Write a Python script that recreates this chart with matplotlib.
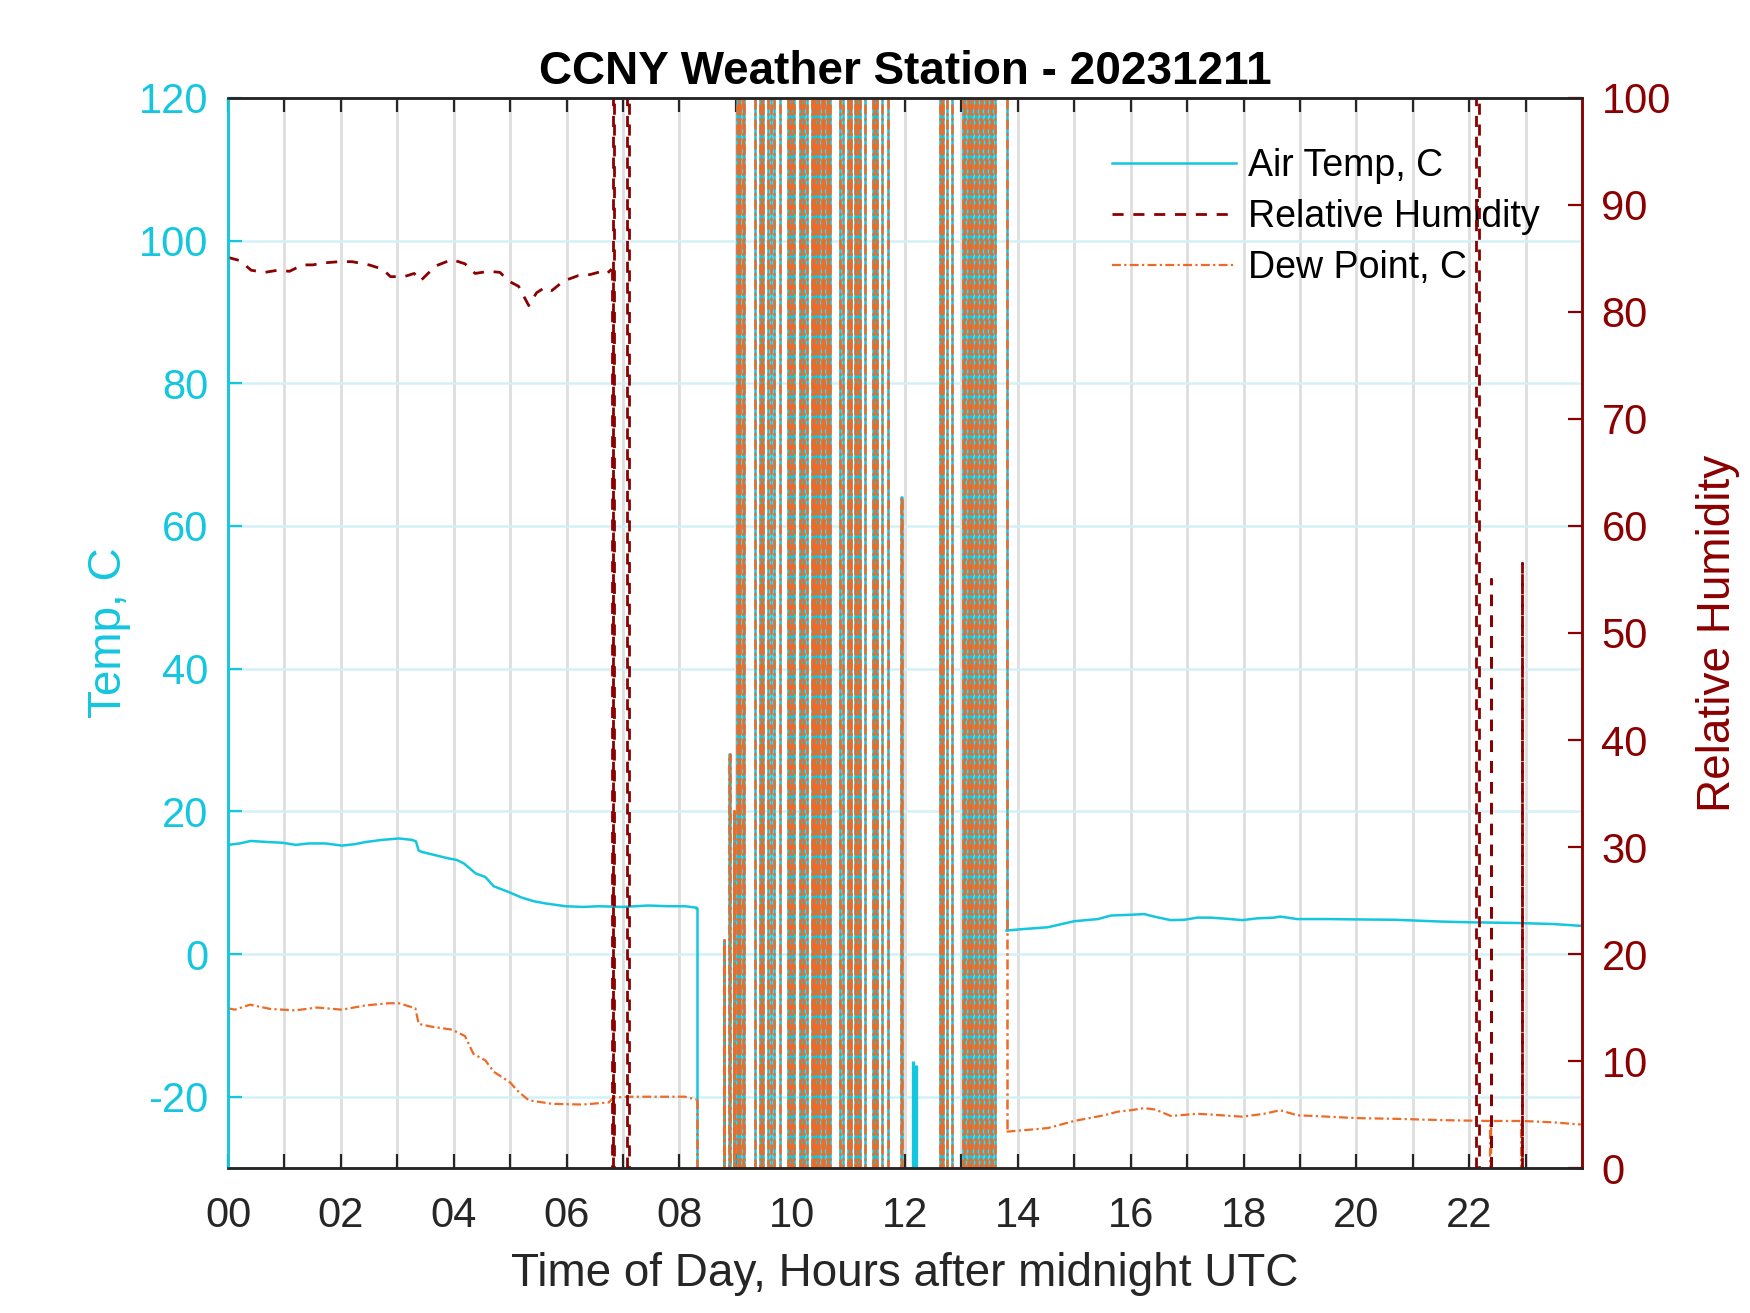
import numpy as np
import matplotlib.pyplot as plt
from matplotlib.lines import Line2D

plt.rcParams['font.family'] = ['Liberation Sans', 'DejaVu Sans']
plt.rcParams['axes.unicode_minus'] = False

# colours
cyan = '#14C6DE'
dred = '#8B0000'
orange = '#EE6A27'
axgrey = '#262626'

# ---- air temp (C), before and after the sensor glitch block ----
temp_t1 = [0.0, 0.21, 0.40, 0.70, 0.96, 1.20, 1.43, 1.73, 2.02, 2.25, 2.44, 2.73, 3.03,
           3.26, 3.33, 3.38, 3.44, 3.65, 3.91, 4.05, 4.18, 4.39, 4.56, 4.71, 4.97, 5.21,
           5.42, 5.62, 5.98, 6.30, 6.57, 7.00, 7.45, 7.80, 8.10, 8.30]
temp_v1 = [15.3, 15.5, 15.85, 15.7, 15.6, 15.3, 15.5, 15.5, 15.2, 15.4, 15.7, 16.0, 16.2,
           16.0, 15.8, 14.5, 14.3, 13.9, 13.4, 13.2, 12.7, 11.3, 10.8, 9.5, 8.7, 7.9,
           7.4, 7.1, 6.7, 6.6, 6.7, 6.6, 6.8, 6.7, 6.7, 6.5]
temp_t2 = [13.80, 14.10, 14.53, 15.00, 15.42, 15.65, 16.00, 16.24, 16.44, 16.71, 16.95,
           17.18, 17.42, 17.77, 17.98, 18.24, 18.54, 18.65, 18.95, 19.50, 20.00, 20.70,
           21.50, 22.00, 22.85, 23.50, 23.98]
temp_v2 = [3.3, 3.5, 3.75, 4.6, 4.9, 5.4, 5.5, 5.6, 5.2, 4.75, 4.8,
           5.1, 5.1, 4.9, 4.75, 5.0, 5.1, 5.25, 4.9, 4.9, 4.85, 4.8,
           4.55, 4.45, 4.35, 4.2, 3.95]
# short temp-only dropouts
temp_spike_t = [12.14, 12.20]
temp_spike_v = [-15.0, -15.5]

# ---- dew point (C) ----
dew_t1 = [0.0, 0.12, 0.39, 0.75, 1.19, 1.58, 2.02, 2.44, 2.85, 3.03, 3.32, 3.38, 3.62,
          3.97, 4.20, 4.35, 4.56, 4.71, 5.00, 5.15, 5.33, 5.74, 6.28, 6.75, 6.82, 6.83,
          6.84, 7.17, 7.76, 8.10, 8.30]
dew_v1 = [-7.6, -7.8, -7.1, -7.7, -7.9, -7.5, -7.8, -7.2, -6.9, -6.9, -7.6, -9.8, -10.2,
          -10.6, -11.5, -14.0, -14.9, -16.5, -18.0, -19.3, -20.5, -21.0, -21.1, -20.8, -20.2, -21.4,
          -20.1, -20.0, -20.0, -20.0, -20.4]
dew_t2 = [13.80, 14.10, 14.53, 15.00, 15.53, 15.77, 16.00, 16.24, 16.44, 16.71, 17.18,
          17.42, 17.98, 18.36, 18.65, 18.95, 19.50, 20.00, 20.70, 21.60, 22.37, 22.38,
          22.39, 22.92, 22.93, 22.94, 23.50, 23.98]
dew_v2 = [-24.9, -24.7, -24.4, -23.4, -22.6, -22.1, -21.9, -21.6, -21.8, -22.7, -22.4,
          -22.5, -22.8, -22.4, -21.9, -22.6, -22.8, -23.0, -23.1, -23.3, -23.4, -300.0,
          -23.4, -23.4, -300.0, -23.4, -23.6, -23.9]

# ---- raw readings during the glitch block (shared by temp and dew sensor) ----
glitch_t = [8.32, 8.79, 8.80, 8.88, 8.89, 8.96, 8.97, 9.02, 9.05, 9.07, 9.12, 9.15, 9.34,
            9.43, 9.46, 9.49, 9.58, 9.62, 9.67, 9.78, 9.93, 9.96, 9.99, 10.04, 10.13,
            10.17, 10.21, 10.26, 10.35, 10.37, 10.39, 10.43, 10.45, 10.47, 10.52, 10.54,
            10.56, 10.61, 10.64, 10.67, 10.85, 10.90, 10.99, 11.02, 11.05, 11.11, 11.14,
            11.17, 11.20, 11.29, 11.44, 11.47, 11.50, 11.60, 11.69, 11.93, 11.94, 12.62,
            12.65, 12.68, 12.74, 12.83, 13.02, 13.06, 13.11, 13.15, 13.19, 13.24, 13.28,
            13.33, 13.37, 13.41, 13.46, 13.50, 13.55, 13.59, 13.74]
glitch_v = [-300, 2, -300, 28, -300, 20, -300, 300, -300, 300, -300, 300, -300,
            300, -300, 300, -300, 300, -300, 300, -300, 300, -300, 300, -300,
            300, -300, 300, -300, 300, -300, 300, -300, 300, -300, 300,
            -300, 300, -300, 300, -300, 300, -300, 300, -300, 300, -300,
            300, -300, 300, -300, 300, -300, 300, -300, 64, -300, 300,
            -300, 300, -300, 300, -300, 300, -300, 300, -300, 300, -300,
            300, -300, 300, -300, 300, -300, 300, 300]

# ---- relative humidity (%) ----
rh_t1 = [0.0, 0.21, 0.41, 0.65, 0.88, 1.09, 1.32, 1.50, 1.73, 1.97, 2.20, 2.50, 2.74,
         2.88, 3.12, 3.30, 3.41, 3.68, 3.97, 4.20, 4.38, 4.62, 4.82, 4.97, 5.15, 5.33,
         5.47, 5.62, 5.74, 5.95, 6.21, 6.42, 6.63, 6.72, 6.80]
rh_v1 = [85.1, 84.8, 83.9, 83.7, 83.9, 83.8, 84.4, 84.4, 84.6, 84.7, 84.7, 84.4, 84.0,
         83.3, 83.3, 83.6, 82.9, 84.3, 84.9, 84.5, 83.6, 83.8, 83.7, 82.9, 82.4, 80.6,
         81.8, 82.3, 82.0, 82.9, 83.4, 83.5, 83.8, 83.6, 84.0]
rh_glitch_t = [6.81, 6.83, 6.85, 7.08, 7.11, 22.12, 22.18, 22.38, 22.39, 22.93, 22.94, 23.98]
rh_glitch_v = [-50, 200, -50, 200, -50, 200, -50, 55, -50, 56.5, -50, -50]

hours = list(range(24))
hour_labels = ['%02d' % h if h % 2 == 0 else '' for h in hours]

fig = plt.figure(figsize=(8.75, 6.565), dpi=200)
ax = fig.add_axes([0.1303, 0.1104, 0.7737, 0.8150])
ax2 = ax.twinx()

# temp
ax.plot(temp_t1, temp_v1, color=cyan, lw=0.9)
ax.plot([temp_t1[-1]] + glitch_t + [temp_t2[0]], [temp_v1[-1]] + glitch_v + [temp_v2[0]],
        color=cyan, lw=0.9, drawstyle='steps-post')
ax.plot(temp_t2, temp_v2, color=cyan, lw=0.9)
ax.vlines(temp_spike_t, -300, temp_spike_v, color=cyan, lw=1.2)

# dew point
dd = (0, (4, 1.5, 1, 1.5))
ax.plot(dew_t1, dew_v1, color=orange, lw=0.8, linestyle=dd)
ax.plot([dew_t1[-1]] + glitch_t + [dew_t2[0]], [dew_v1[-1]] + glitch_v + [dew_v2[0]],
        color=orange, lw=0.9, linestyle=dd, drawstyle='steps-post')
ax.plot(dew_t2, dew_v2, color=orange, lw=0.8, linestyle=dd)

# relative humidity on right axis
rh_dash = (0, (4, 3.5))
ax2.plot(rh_t1, rh_v1, color=dred, lw=1.0, linestyle=rh_dash)
ax2.plot([rh_t1[-1]] + rh_glitch_t, [rh_v1[-1]] + rh_glitch_v, color=dred, lw=1.0,
         linestyle=rh_dash, drawstyle='steps-post')

ax.set_xlim(0, 24)
ax.set_ylim(-30, 120)
ax2.set_ylim(0, 100)
ax.set_xticks(hours)
ax.set_xticklabels(hour_labels)
ax.set_yticks(range(-20, 121, 20))
ax2.set_yticks(range(0, 101, 10))

ax.set_axisbelow(True)
ax.xaxis.grid(True, color='#dedede', lw=1.0)
ax.yaxis.grid(True, color='#d2f1f6', lw=0.9)

ax.tick_params(axis='x', direction='in', length=5, width=0.8, color=axgrey,
               labelcolor=axgrey, labelsize=15, top=True, pad=10)
ax.tick_params(axis='y', direction='in', length=5, width=0.8, colors=cyan,
               labelsize=15, pad=7)
ax2.tick_params(axis='y', direction='in', length=5, width=0.8, colors=dred,
                labelsize=15, pad=7)

for a in (ax, ax2):
    a.spines['top'].set_color(axgrey)
    a.spines['bottom'].set_color(axgrey)
    a.spines['left'].set_color(cyan)
    a.spines['right'].set_color(dred)
    for s in a.spines.values():
        s.set_linewidth(0.9)

ax.set_xlabel('Time of Day, Hours after midnight UTC', fontsize=16.5, color=axgrey, labelpad=6)
ax.set_ylabel('Temp, C', fontsize=16.5, color=cyan, labelpad=3)
ax2.set_ylabel('Relative Humidity', fontsize=16.5, color=dred, labelpad=9)
ax.set_title('CCNY Weather Station - 20231211', fontsize=16.5, fontweight='bold', pad=5)

handles = [Line2D([], [], color=cyan, lw=0.9),
           Line2D([], [], color=dred, lw=1.0, linestyle=rh_dash),
           Line2D([], [], color=orange, lw=0.8, linestyle=dd)]
ax.legend(handles, ['Air Temp, C', 'Relative Humidity', 'Dew Point, C'],
          loc='upper left', bbox_to_anchor=(0.653, 0.953), frameon=False, fontsize=13.5,
          handlelength=3.3, handletextpad=0.32, labelspacing=0.4, borderpad=0,
          borderaxespad=0)

fig.savefig('out.png', dpi=200)
